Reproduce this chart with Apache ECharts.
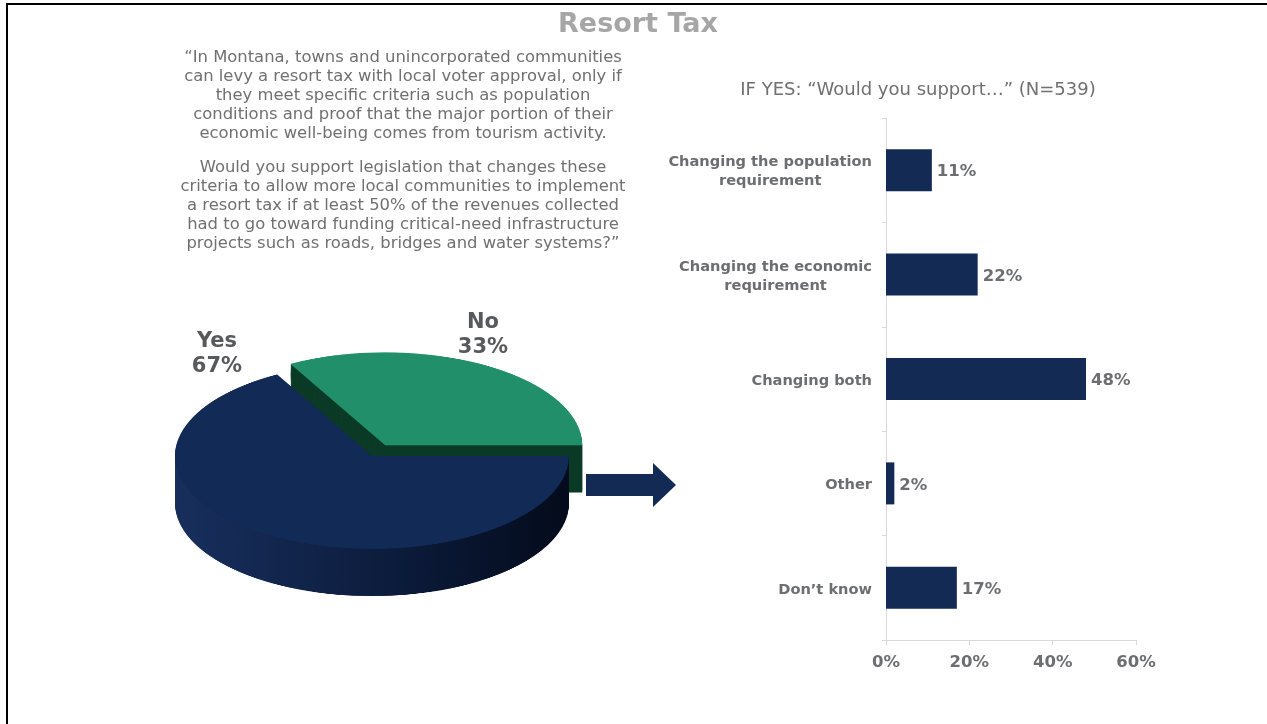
<!DOCTYPE html>
<html>
<head>
<meta charset="utf-8">
<script src="https://cdn.jsdelivr.net/npm/echarts@6/dist/echarts.min.js"></script>
<style>
  html, body { margin: 0; padding: 0; background: #ffffff; }
  #frame { position: absolute; left: 6px; top: 3px; width: 1261px; height: 721px;
           border-top: 2px solid #000; border-left: 2px solid #000; box-sizing: border-box; }
  #pie { position: absolute; left: 142px; top: 345px; width: 460px; height: 560px;
         transform: scaleY(0.472); transform-origin: 0 0; }
  #main { position: absolute; left: 0; top: 0; width: 1267px; height: 724px; }
</style>
</head>
<body>
<div id="frame"></div>
<div id="pie"></div>
<div id="main"></div>
<script>
// Survey answers: support for the resort tax change
const pieLabels = ['Yes', 'No'];
const pieValues = [67, 33];

// Follow-up among those answering yes
const barCategories = [
  'Changing the population\nrequirement',
  'Changing the economic\nrequirement',
  'Changing both',
  'Other',
  'Don\u2019t know'
];
const barValues = [11, 22, 48, 2, 17];

// Value axis ticks (percent)
const axisMin = 0, axisMax = 60, axisStep = 20;

const titleText = 'Resort Tax';
const quoteText1 = '\u201cIn Montana, towns and unincorporated communities\ncan levy a resort tax with local voter approval, only if\nthey meet specific criteria such as population\nconditions and proof that the major portion of their\neconomic well-being comes from tourism activity.';
const quoteText2 = 'Would you support legislation that changes these\ncriteria to allow more local communities to implement\na resort tax if at least 50% of the revenues collected\nhad to go toward funding critical-need infrastructure\nprojects such as roads, bridges and water systems?\u201d';
const subTitleText = 'IF YES: \u201cWould you support\u2026\u201d (N=539)';

const NAVY = '#132a55';
const GRAY = '#6d6e71';
const FONT = '"DejaVu Sans", Verdana, sans-serif';

// ---------- 3D-looking pie: stacked pie layers in a vertically squashed box ----------
const pie = echarts.init(document.getElementById('pie'), null, { renderer: 'canvas' });
const total = pieValues.reduce((a, b) => a + b, 0);
const startAngle = 360 * pieValues[1] / total;   // "No" wedge spans from east up to this angle
const PIE_CX = 230, PIE_CY = 235, PIE_R = 197;
const DEPTH = 100, LAYERS = 50;

const sideColors = [
  new echarts.graphic.LinearGradient(0, 0, 1, 0, [
    { offset: 0, color: '#182f5d' },
    { offset: 0.55, color: '#0c1c3c' },
    { offset: 1, color: '#040b1b' }
  ]),
  '#0b3a27'
];
const topColors = ['#122a56', '#21906a'];

function pieLayer(offsetY, colors) {
  return {
    type: 'pie',
    center: [PIE_CX, PIE_CY + offsetY],
    radius: [0, PIE_R],
    startAngle: startAngle,
    clockwise: false,
    selectedMode: 'single',
    selectedOffset: 26,
    silent: true,
    animation: false,
    label: { show: false },
    labelLine: { show: false },
    emphasis: { disabled: true },
    itemStyle: { borderWidth: 0 },
    data: pieValues.map((v, i) => ({
      name: pieLabels[i],
      value: v,
      selected: i === 1,
      itemStyle: { color: colors[i] }
    }))
  };
}

const pieSeries = [];
for (let k = LAYERS; k >= 1; k--) {
  pieSeries.push(pieLayer(DEPTH * k / LAYERS, sideColors));
}
pieSeries.push(pieLayer(0, topColors));
pie.setOption({ animation: false, series: pieSeries });

// ---------- Main chart: bars, texts and the connecting arrow ----------
const main = echarts.init(document.getElementById('main'), null, { renderer: 'canvas' });

const pieLabelPos = [[217, 354], [483, 335]];

main.setOption({
  animation: false,
  grid: { left: 886, right: 131, top: 118, bottom: 84 },
  xAxis: {
    type: 'value',
    min: axisMin, max: axisMax, interval: axisStep,
    axisLine: { show: true, lineStyle: { color: '#d9d9d9', width: 1 } },
    axisTick: { show: true, length: 5, lineStyle: { color: '#d9d9d9' } },
    splitLine: { show: false },
    axisLabel: {
      formatter: '{value}%', margin: 14,
      color: GRAY, fontFamily: FONT, fontWeight: 'bold', fontSize: 16.5
    }
  },
  yAxis: {
    type: 'category',
    inverse: true,
    data: barCategories,
    axisLine: { show: true, lineStyle: { color: '#d9d9d9', width: 1 } },
    axisTick: { show: true, length: 4, lineStyle: { color: '#d9d9d9' } },
    axisLabel: {
      margin: 14,
      padding: [4, 0, 0, 0],
      color: GRAY, fontFamily: FONT, fontWeight: 'bold', fontSize: 14.6, lineHeight: 19,
      formatter: v => v.split('\n').map(l => '{c|' + l + '}').join('\n'),
      rich: { c: { align: 'center', color: GRAY, fontFamily: FONT, fontWeight: 'bold', fontSize: 14.6, lineHeight: 19 } }
    }
  },
  series: [{
    type: 'bar',
    data: barValues,
    barWidth: 42,
    silent: true,
    itemStyle: { color: NAVY },
    label: {
      show: true, position: 'right', distance: 5, offset: [0, 2],
      formatter: '{c}%',
      color: GRAY, fontFamily: FONT, fontWeight: 'bold', fontSize: 16.5
    }
  }],
  graphic: [
    {
      type: 'text', x: 638, y: 11,
      style: { text: titleText, font: 'bold 27px ' + FONT, fill: '#a6a6a6', align: 'center' }
    },
    {
      type: 'text', x: 403, y: 48,
      style: { text: quoteText1, font: '16.4px ' + FONT, fill: '#707070', align: 'center', lineHeight: 19 }
    },
    {
      type: 'text', x: 403, y: 158,
      style: { text: quoteText2, font: '16.4px ' + FONT, fill: '#707070', align: 'center', lineHeight: 19 }
    },
    {
      type: 'text', x: 918, y: 81,
      style: { text: subTitleText, font: '18px ' + FONT, fill: '#707070', align: 'center' }
    },
    ...pieLabels.map((name, i) => ({
      type: 'text', x: pieLabelPos[i][0], y: pieLabelPos[i][1],
      style: {
        text: name + '\n' + pieValues[i] + '%',
        font: 'bold 21px ' + FONT, fill: '#58595b',
        align: 'center', verticalAlign: 'middle', lineHeight: 25
      }
    })),
    {
      type: 'polygon',
      shape: { points: [[586, 474], [653, 474], [653, 463], [676, 485], [653, 507], [653, 496], [586, 496]] },
      style: { fill: NAVY }
    }
  ]
});
</script>
</body>
</html>
